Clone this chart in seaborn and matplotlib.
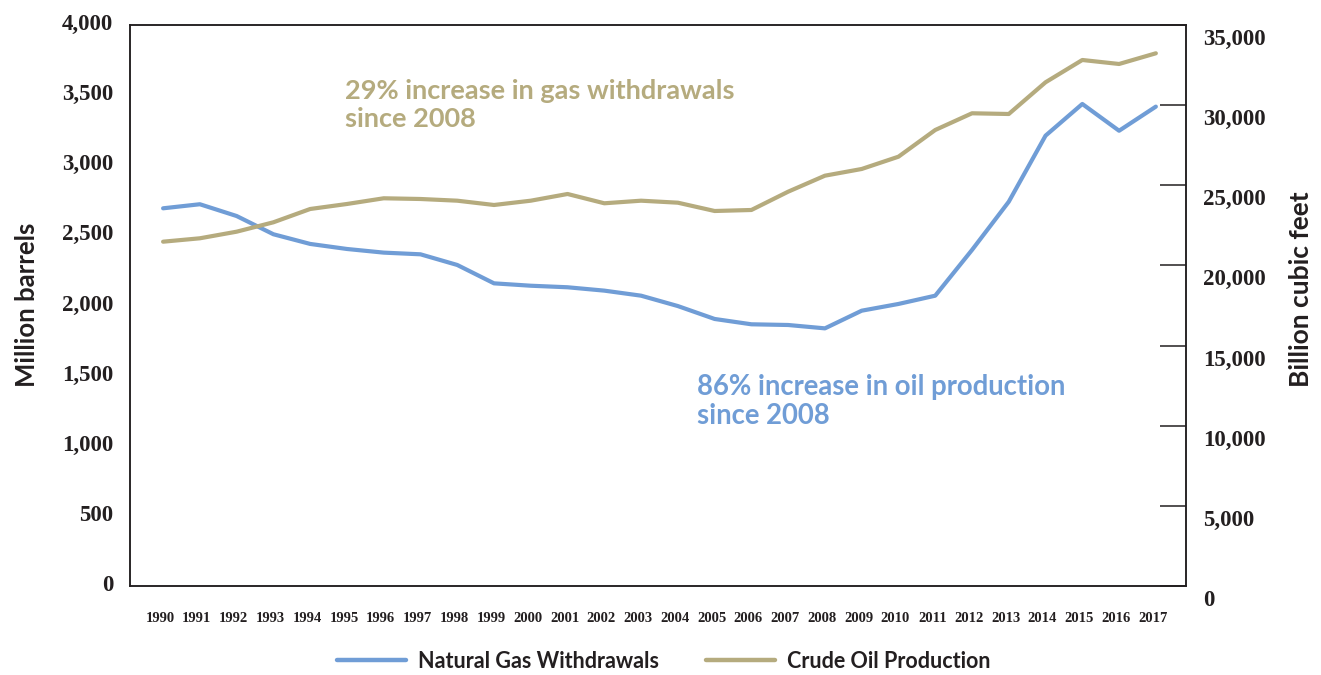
import matplotlib
matplotlib.use("Agg")
import matplotlib.pyplot as plt
import matplotlib.transforms as mtransforms
from matplotlib.lines import Line2D
import seaborn as sns
import pandas as pd

# ---------------- data ----------------
years = list(range(1990, 2018))
oil_million_barrels = [2693, 2722, 2638, 2508, 2439, 2403, 2377, 2365, 2289, 2158,
                       2141, 2130, 2106, 2070, 1996, 1904, 1866, 1861, 1837, 1963,
                       2011, 2070, 2396, 2740, 3211, 3437, 3246, 3418]
gas_billion_cf = [21481, 21693, 22105, 22691, 23521, 23833, 24189, 24145, 24039, 23771,
                  24039, 24457, 23877, 24039, 23914, 23396, 23459, 24601, 25599, 26017,
                  26784, 28450, 29492, 29448, 31426, 32817, 32568, 33235]
left_ticks = [0, 500, 1000, 1500, 2000, 2500, 3000, 3500, 4000]
right_ticks = [0, 5000, 10000, 15000, 20000, 25000, 30000, 35000]
year_labels = [str(y) for y in years]
legend_labels = ["Natural Gas Withdrawals", "Crude Oil Production"]
note_gas = "29% increase in gas withdrawals\nsince 2008"
note_oil = "86% increase in oil production\nsince 2008"
left_label = "Million barrels"
right_label = "Billion cubic feet"

BLUE = "#709DD6"
GOLD = "#B5AB7E"
DARK = "#231F20"
SANS = ["Lato", "DejaVu Sans"]
SERIF = ["Liberation Serif", "DejaVu Serif"]

sns.set_theme(style="white")
plt.rcParams["font.family"] = SANS

df = pd.DataFrame({"year": years, "oil": oil_million_barrels, "gas": gas_billion_cf})

W, H = 1321, 675
fig = plt.figure(figsize=(W / 100, H / 100), dpi=100)
ax = fig.add_axes([130 / W, 1 - 586 / H, 1056 / W, 561 / H])
ax2 = ax.twinx()

sns.lineplot(data=df, x="year", y="oil", ax=ax, color=BLUE, linewidth=3,
             legend=False, solid_capstyle="round")
sns.lineplot(data=df, x="year", y="gas", ax=ax2, color=GOLD, linewidth=3,
             legend=False, solid_capstyle="round")

ax.set_xlim(1989.1, 2017.82)
ax.set_ylim(0, 4000)
ax2.set_ylim(0, 35000)
ax.set_xticks(years)
ax.set_xticklabels(year_labels)
ax.set_yticks(left_ticks)
ax.set_yticklabels([f"{v:,}" for v in left_ticks])
ax2.set_yticks(right_ticks)
ax2.set_yticklabels([f"{v:,}" for v in right_ticks])
ax.set_xlabel("")
ax.set_ylabel("")
ax2.set_ylabel("")

for a in (ax, ax2):
    for s in a.spines.values():
        s.set_visible(True)
        s.set_color(DARK)
        s.set_linewidth(1.1)

ax.tick_params(axis="y", length=0, pad=12)
ax.tick_params(axis="x", length=0, pad=19)
ax2.tick_params(axis="y", direction="in", length=18.7, width=1.1, color=DARK, pad=12)

for lab in ax.get_yticklabels():
    lab.set_fontfamily(SERIF)
    lab.set_fontweight("bold")
    lab.set_fontsize(16.5)
    lab.set_color(DARK)
    lab.set_transform(lab.get_transform() +
                      mtransforms.ScaledTranslation(0, 3 / 100, fig.dpi_scale_trans))
for lab in ax2.get_yticklabels():
    lab.set_fontfamily(SERIF)
    lab.set_fontweight("bold")
    lab.set_fontsize(16.5)
    lab.set_color(DARK)
    lab.set_transform(lab.get_transform() +
                      mtransforms.ScaledTranslation(0, -12 / 100, fig.dpi_scale_trans))
for lab in ax.get_xticklabels():
    lab.set_fontfamily(SERIF)
    lab.set_fontweight("bold")
    lab.set_fontsize(10.5)
    lab.set_color(DARK)
    lab.set_transform(lab.get_transform() +
                      mtransforms.ScaledTranslation(-3 / 100, 0, fig.dpi_scale_trans))

# axis titles
fig.text(27 / W, 1 - 305 / H, left_label, rotation=90, ha="center", va="center",
         fontsize=18.5, fontweight="bold", color=DARK)
fig.text(1301 / W, 1 - 289 / H, right_label, rotation=90, ha="center", va="center",
         fontsize=19, fontweight="bold", color=DARK)

# annotations
fig.text(345 / W, 1 - 79 / H, note_gas, ha="left", va="top", fontsize=19.5,
         fontweight="bold", color=GOLD, linespacing=1.2)
fig.text(697 / W, 1 - 374 / H, note_oil, ha="left", va="top", fontsize=19.8,
         fontweight="bold", color=BLUE, linespacing=1.12)

# legend
handles = [Line2D([0], [0], color=BLUE, lw=3.2, solid_capstyle="round"),
           Line2D([0], [0], color=GOLD, lw=3.2, solid_capstyle="round")]
leg = fig.legend(handles, legend_labels, loc="center",
                 bbox_to_anchor=(664 / W, 1 - 661 / H), ncol=2, frameon=False,
                 handlelength=3.2, handletextpad=0.55, columnspacing=2.2,
                 prop={"family": SANS, "weight": "bold", "size": 15.5})
for t in leg.get_texts():
    t.set_color(DARK)

fig.savefig("out.png", dpi=100, facecolor="white")
